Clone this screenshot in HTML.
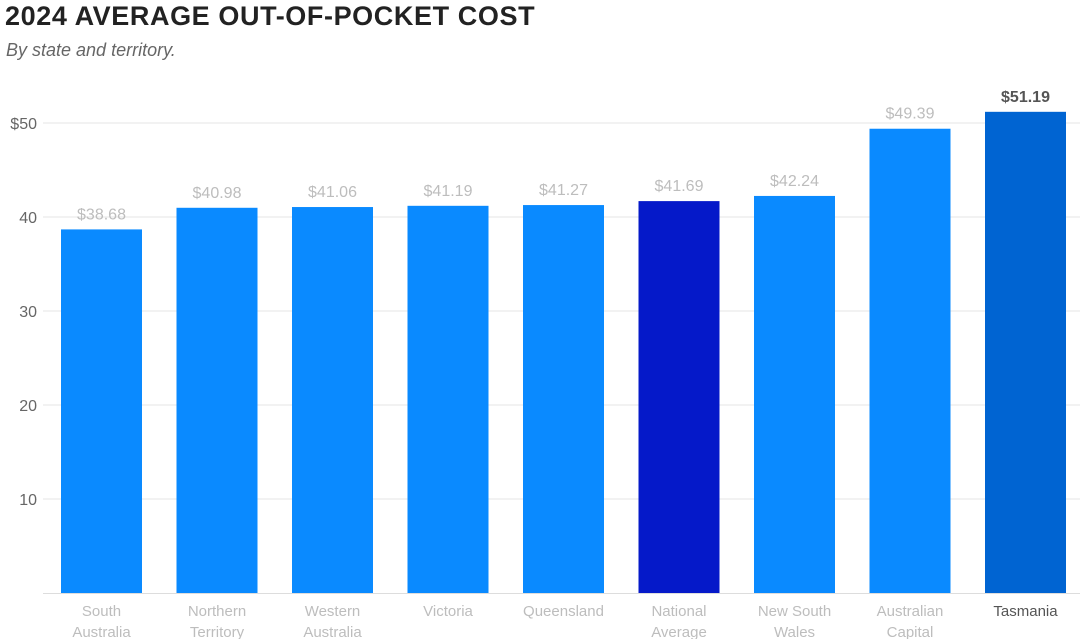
<!DOCTYPE html>
<html><head><meta charset="utf-8"><style>
body{margin:0;background:#fff;width:1080px;height:639px;overflow:hidden;font-family:"Liberation Sans",sans-serif}
#t{position:absolute;left:5px;top:1px;font-size:27px;letter-spacing:0.6px;font-weight:bold;color:#222}
#s{position:absolute;left:6px;top:40px;font-size:18px;font-style:italic;color:#666}
svg{position:absolute;left:0;top:0}
</style></head><body>
<div id="t">2024 AVERAGE OUT-OF-POCKET COST</div>
<div id="s">By state and territory.</div>
<svg id="c" width="1080" height="639"></svg>
<script>
const categories=[["South","Australia"],["Northern","Territory"],["Western","Australia"],["Victoria"],["Queensland"],["National","Average"],["New South","Wales"],["Australian","Capital"],["Tasmania"]];
const values=[38.68,40.98,41.06,41.19,41.27,41.69,42.24,49.39,51.19];
const labels=["$38.68","$40.98","$41.06","$41.19","$41.27","$41.69","$42.24","$49.39","$51.19"];
const ticks=[10,20,30,40,50];
const tickLabels=["10","20","30","40","$50"];
const NS="http://www.w3.org/2000/svg",svg=document.getElementById('c');
const y=v=>593-v*9.4;
const x=i=>61+i*115.5;
const bw=81;
function mk(t,a){const e=document.createElementNS(NS,t);for(const k in a)e.setAttribute(k,a[k]);svg.appendChild(e);return e;}
ticks.forEach((t,i)=>{
  const l=mk('line',{x1:43,x2:1080,y1:y(t),y2:y(t),stroke:'#e6e6e6','stroke-width':1});
  
  
  const tx=mk('text',{x:37,y:y(t)+6,'text-anchor':'end','font-size':16,fill:'#666'});
  tx.textContent=tickLabels[i];
  
  
});
const b=mk('line',{x1:43,x2:1080,y1:593.5,y2:593.5,stroke:'#ddd','stroke-width':1});


values.forEach((v,i)=>{
  const col=i===5?'#0519c9':(i===8?'#0064d2':'#0a8aff');
  const r=mk('rect',{x:x(i),y:y(v),width:bw,height:593-y(v),fill:col});
  
  
  const hi=i===8;
  const t=mk('text',{x:x(i)+bw/2,y:y(v)-10,'text-anchor':'middle','font-size':16,fill:hi?'#555':'#bdbdbd','font-weight':hi?'bold':'normal'});
  t.textContent=labels[i];
  
  
  categories[i].forEach((ln,j)=>{
    const c=mk('text',{x:x(i)+bw/2,y:616+j*21,'text-anchor':'middle','font-size':15,fill:hi?'#555':'#bdbdbd'});
    c.textContent=ln;
    
    
  });
});
</script>
</body></html>
